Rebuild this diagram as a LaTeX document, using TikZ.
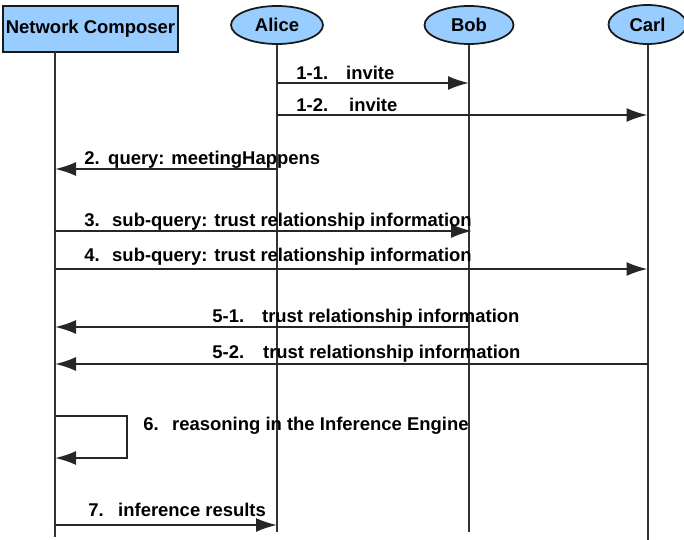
\documentclass[tikz,border=0pt]{standalone}
\usepackage{fontspec}
\setmainfont{Liberation Sans}
\usetikzlibrary{shapes.geometric,arrows.meta}

\definecolor{partyblue}{RGB}{153,204,255}

\tikzset{
  party/.style={draw=black!90, fill=partyblue, line width=0.035cm, inner sep=0pt},
  life/.style={draw=black!80, line width=0.04cm},
  msg/.style={draw=black!85, line width=0.04cm, -{Latex[length=0.42cm,width=0.28cm]}},
  lbl/.style={anchor=base west, inner sep=0pt},
}

\begin{document}
\begin{tikzpicture}[every node/.style={font=\fontsize{10.5}{12}\selectfont\bfseries}]
    \useasboundingbox (0,0) rectangle (13.68,-10.8);

    % parties
    \node[party, rectangle, minimum width=3.5cm, minimum height=0.92cm] (nc) at (1.81,-0.58) {Network Composer};
    \node[party, ellipse, minimum width=1.84cm, minimum height=0.76cm] (alice) at (5.54,-0.5) {Alice};
    \node[party, ellipse, minimum width=1.78cm, minimum height=0.76cm] (bob) at (9.38,-0.5) {Bob};
    \node[party, ellipse, minimum width=1.56cm, minimum height=0.78cm] (carl) at (12.95,-0.49) {Carl};

    % lifelines
    \coordinate (ncl) at (1.1,-1.04);
    \coordinate (ncend) at (1.1,-10.74);
    \coordinate (aend) at (5.54,-10.64);
    \coordinate (bend) at (9.38,-10.64);
    \coordinate (cend) at (12.95,-10.8);
    \draw[life] (ncl) -- (ncend);
    \draw[life] (alice) -- (aend);
    \draw[life] (bob) -- (bend);
    \draw[life] (carl) -- (cend);

    % 1. invitations
    \draw[msg] (alice |- 0,-1.66) -- (bob |- 0,-1.66);
    \node[lbl] (t11) at (5.92,-1.60) {1-1.\hspace{0.36cm}invite};
    \draw[msg] (alice |- 0,-2.30) -- (carl |- 0,-2.30);
    \node[lbl] (t12) at (5.92,-2.24) {1-2.\hspace{0.42cm}invite};

    % 2. query
    \draw[msg] (alice |- 0,-3.38) -- (ncl |- 0,-3.38);
    \node[lbl] (t2) at (1.68,-3.30) {2.\hspace{0.17cm}query: meetingHappens};

    % 3./4. sub-queries
    \draw[msg] (ncl |- 0,-4.62) -- ([xshift=0.06cm]bob |- 0,-4.62);
    \node[lbl] (t3) at (1.68,-4.54) {3.\hspace{0.25cm}sub-query: trust relationship information};
    \draw[msg] (ncl |- 0,-5.38) -- (carl |- 0,-5.38);
    \node[lbl] (t4) at (1.68,-5.24) {4.\hspace{0.25cm}sub-query: trust relationship information};

    % 5. answers
    \draw[msg] (bob |- 0,-6.54) -- (ncl |- 0,-6.54);
    \node[lbl] (t51) at (4.24,-6.44) {5-1.\hspace{0.36cm}trust relationship information};
    \draw[msg] (carl |- 0,-7.28) -- (ncl |- 0,-7.28);
    \node[lbl] (t52) at (4.24,-7.16) {5-2.\hspace{0.38cm}trust relationship information};

    % 6. self call
    \draw[msg] (ncl |- 0,-8.32) -| (2.54,-9.16) -- (ncl |- 0,-9.16);
    \node[lbl] (t6) at (2.86,-8.60) {6.\hspace{0.27cm}reasoning in the Inference Engine};

    % 7. results
    \draw[msg] (ncl |- 0,-10.50) -- (alice |- 0,-10.50);
    \node[lbl] (t7) at (1.76,-10.32) {7.\hspace{0.29cm}inference results};
\end{tikzpicture}
\end{document}
